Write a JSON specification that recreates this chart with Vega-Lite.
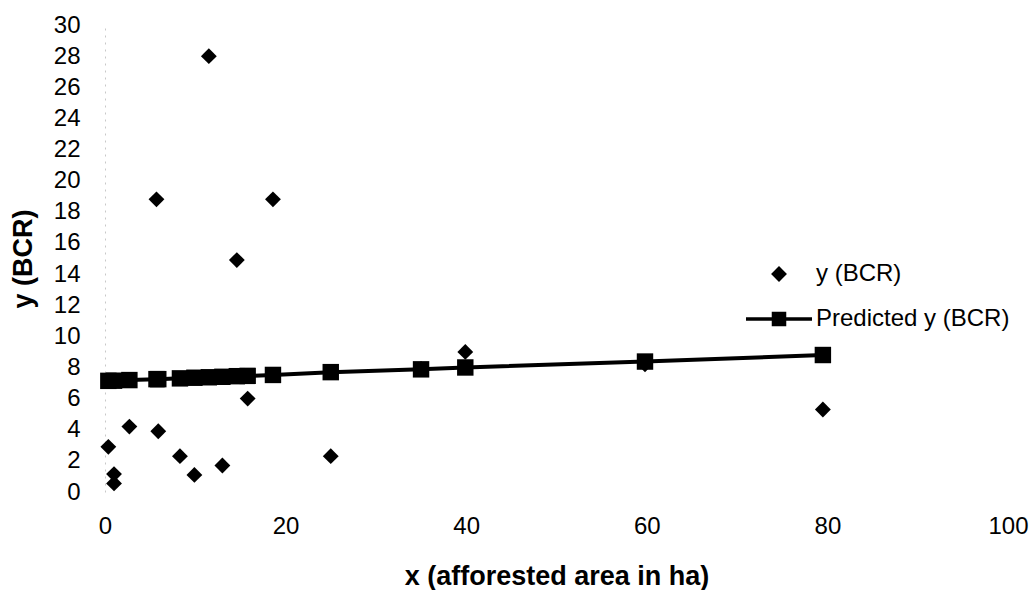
{
  "$schema": "https://vega.github.io/schema/vega-lite/v6.json",
  "width": 903,
  "height": 467,
  "autosize": {"type": "none"},
  "padding": {"left": 105, "top": 25, "right": 22, "bottom": 98},
  "background": "white",
  "config": {
    "view": {"stroke": null},
    "font": "Liberation Sans",
    "axis": {
      "grid": false,
      "ticks": false,
      "labelFont": "Liberation Sans",
      "labelFontSize": 24,
      "labelColor": "black",
      "titleFont": "Liberation Sans",
      "titleFontSize": 27,
      "titleFontWeight": "bold",
      "titleColor": "black"
    }
  },
  "data": {
    "values": [
      {"x": 0.37, "v": 2.9, "s": "y (BCR)"},
      {"x": 1.0, "v": 1.15, "s": "y (BCR)"},
      {"x": 1.0, "v": 0.55, "s": "y (BCR)"},
      {"x": 2.7, "v": 4.2, "s": "y (BCR)"},
      {"x": 5.7, "v": 18.8, "s": "y (BCR)"},
      {"x": 5.9, "v": 3.9, "s": "y (BCR)"},
      {"x": 8.3, "v": 2.3, "s": "y (BCR)"},
      {"x": 9.9, "v": 1.1, "s": "y (BCR)"},
      {"x": 11.5, "v": 28.0, "s": "y (BCR)"},
      {"x": 13.0, "v": 1.7, "s": "y (BCR)"},
      {"x": 14.6, "v": 14.9, "s": "y (BCR)"},
      {"x": 15.8, "v": 6.0, "s": "y (BCR)"},
      {"x": 18.6, "v": 18.8, "s": "y (BCR)"},
      {"x": 25.0, "v": 2.3, "s": "y (BCR)"},
      {"x": 35.0, "v": 7.9, "s": "y (BCR)"},
      {"x": 39.9, "v": 9.0, "s": "y (BCR)"},
      {"x": 59.8, "v": 8.2, "s": "y (BCR)"},
      {"x": 79.5, "v": 5.3, "s": "y (BCR)"},
      {"x": 0.37, "v": 7.14, "s": "Predicted y (BCR)"},
      {"x": 1.0, "v": 7.15, "s": "Predicted y (BCR)"},
      {"x": 2.7, "v": 7.19, "s": "Predicted y (BCR)"},
      {"x": 5.7, "v": 7.25, "s": "Predicted y (BCR)"},
      {"x": 5.9, "v": 7.25, "s": "Predicted y (BCR)"},
      {"x": 8.3, "v": 7.3, "s": "Predicted y (BCR)"},
      {"x": 9.9, "v": 7.34, "s": "Predicted y (BCR)"},
      {"x": 11.5, "v": 7.37, "s": "Predicted y (BCR)"},
      {"x": 13.0, "v": 7.4, "s": "Predicted y (BCR)"},
      {"x": 14.6, "v": 7.44, "s": "Predicted y (BCR)"},
      {"x": 15.8, "v": 7.46, "s": "Predicted y (BCR)"},
      {"x": 18.6, "v": 7.52, "s": "Predicted y (BCR)"},
      {"x": 25.0, "v": 7.7, "s": "Predicted y (BCR)"},
      {"x": 35.0, "v": 7.88, "s": "Predicted y (BCR)"},
      {"x": 39.9, "v": 8.0, "s": "Predicted y (BCR)"},
      {"x": 59.8, "v": 8.38, "s": "Predicted y (BCR)"},
      {"x": 79.5, "v": 8.8, "s": "Predicted y (BCR)"}
    ]
  },
  "encoding": {
    "x": {
      "field": "x",
      "type": "quantitative",
      "scale": {"domain": [0, 100], "nice": false, "zero": false},
      "axis": {
        "values": [0, 20, 40, 60, 80, 100],
        "domain": false,
        "labelFlush": false,
        "labelPadding": 22,
        "title": "x (afforested area in ha)",
        "titlePadding": 25
      }
    },
    "y": {
      "field": "v",
      "type": "quantitative",
      "scale": {"domain": [0, 30], "nice": false},
      "axis": {
        "values": [0, 2, 4, 6, 8, 10, 12, 14, 16, 18, 20, 22, 24, 26, 28, 30],
        "domain": true,
        "domainColor": "#c8c8c8",
        "domainDash": [2, 5],
        "domainWidth": 1,
        "labelFlush": false,
        "labelPadding": 25,
        "title": "y (BCR)",
        "titlePadding": 16
      }
    }
  },
  "layer": [
    {
      "transform": [{"filter": "datum.s === 'Predicted y (BCR)'"}],
      "mark": {"type": "line", "color": "black", "strokeWidth": 4}
    },
    {
      "transform": [{"filter": "datum.s === 'y (BCR)'"}],
      "mark": {"type": "point", "filled": true, "color": "black", "opacity": 1, "size": 4356, "strokeWidth": 0},
      "encoding": {
        "shape": {
          "field": "s",
          "type": "nominal",
          "scale": {
            "domain": ["y (BCR)", "Predicted y (BCR)"],
            "range": [
              "M0,-0.24L0.24,0L0,0.24L-0.24,0Z",
              "M-1,-0.055H1V0.055H-1Z M-0.22,-0.22H0.22V0.22H-0.22Z"
            ]
          },
          "legend": {
            "orient": "none",
            "legendX": 641,
            "legendY": 216,
            "title": null,
            "padding": 0,
            "labelFont": "Liberation Sans",
            "labelFontSize": 24,
            "labelColor": "black",
            "labelLimit": 400,
            "labelOffset": 4,
            "rowPadding": -24,
            "symbolSize": 4356,
            "symbolStrokeWidth": 0
          }
        }
      }
    },
    {
      "transform": [{"filter": "datum.s === 'Predicted y (BCR)'"}],
      "mark": {"type": "point", "shape": "square", "filled": true, "color": "black", "opacity": 1, "size": 270}
    }
  ]
}
